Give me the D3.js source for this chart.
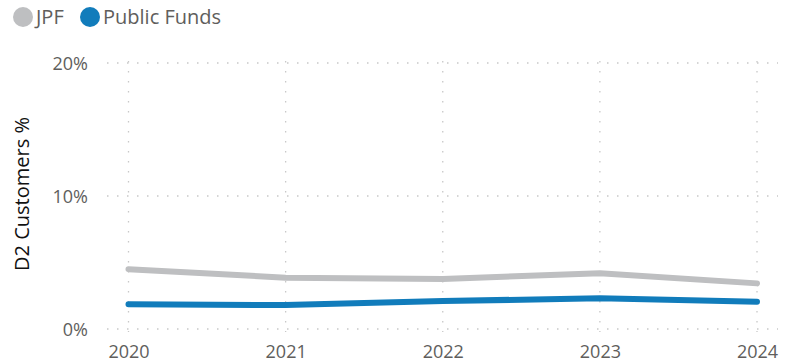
<!DOCTYPE html>
<html>
<head>
<meta charset="utf-8">
<script src="https://cdn.jsdelivr.net/npm/d3@7"></script>
<style>
  html, body { margin: 0; padding: 0; background: #fff; }
  svg { display: block; font-family: "Open Sans", "Noto Sans", sans-serif; }
</style>
</head>
<body>
<svg id="chart" width="795" height="363"></svg>
<script>
// Years on the x axis
const years = [2020, 2021, 2022, 2023, 2024];
// D2 customer share (%) per series
const jpfValues = [4.5, 3.86, 3.76, 4.19, 3.43];
const publicFundsValues = [1.86, 1.8, 2.1, 2.31, 2.05];
// Y axis ticks (%)
const yTicks = [0, 10, 20];
const seriesNames = ["JPF", "Public Funds"];
const seriesColors = ["#BEBFC1", "#117CBB"];

const svg = d3.select("#chart");
const plotLeft = 128.5, plotRight = 757, plotTop = 63, plotBottom = 329;

const x = d3.scalePoint().domain(years).range([plotLeft, plotRight]);
const y = d3.scaleLinear().domain([0, 20]).range([plotBottom, plotTop]);

// Horizontal dotted grid
svg.append("g").selectAll("line").data(yTicks).join("line")
  .attr("x1", 107).attr("x2", 778)
  .attr("y1", d => y(d)).attr("y2", d => y(d))
  .attr("stroke", "#C8C8C8").attr("stroke-width", 1.3)
  .attr("stroke-dasharray", "1.5,8.5");

// Vertical dotted grid
svg.append("g").selectAll("line").data(years).join("line")
  .attr("x1", d => x(d)).attr("x2", d => x(d))
  .attr("y1", plotTop - 2).attr("y2", plotBottom + 3)
  .attr("stroke", "#C8C8C8").attr("stroke-width", 1.3)
  .attr("stroke-dasharray", "1.5,8.5");

// Y axis labels
const yAxis = d3.axisLeft(y).tickValues(yTicks).tickFormat(d => d + "%").tickSize(0).tickPadding(0);
svg.append("g").attr("transform", "translate(88,1)").call(yAxis)
  .call(g => g.select(".domain").remove())
  .call(g => g.selectAll("text").attr("fill", "#605E5C").style("font-size", "18px")
    .style("font-family", "'Open Sans', sans-serif"));

// X axis labels
const xAxis = d3.axisBottom(x).tickSize(0).tickPadding(0);
svg.append("g").attr("transform", "translate(0,0)").call(xAxis)
  .call(g => g.select(".domain").remove())
  .call(g => g.selectAll("text").attr("dy", null).attr("y", 358)
    .attr("fill", "#605E5C").style("font-size", "18px")
    .style("font-family", "'Open Sans', sans-serif"));

// Axis title
svg.append("text")
  .attr("transform", "translate(29,194) rotate(-90)")
  .attr("text-anchor", "middle")
  .attr("fill", "#111")
  .style("font-size", "20px")
  .text("D2 Customers %");

// Lines
const line = d3.line().x((d, i) => x(years[i])).y(d => y(d));
[jpfValues, publicFundsValues].forEach((vals, i) => {
  svg.append("path")
    .datum(vals)
    .attr("d", line)
    .attr("fill", "none")
    .attr("stroke", seriesColors[i])
    .attr("stroke-width", 6)
    .attr("stroke-linecap", "round")
    .attr("stroke-linejoin", "round");
});

// Legend
const legendX = [23, 90];
const legend = svg.append("g");
seriesNames.forEach((name, i) => {
  legend.append("circle").attr("cx", legendX[i]).attr("cy", 17).attr("r", 10)
    .attr("fill", seriesColors[i]);
  legend.append("text").attr("x", legendX[i] + 13).attr("y", 24)
    .attr("fill", "#605E5C").style("font-size", "20px").text(name);
});
</script>
</body>
</html>
